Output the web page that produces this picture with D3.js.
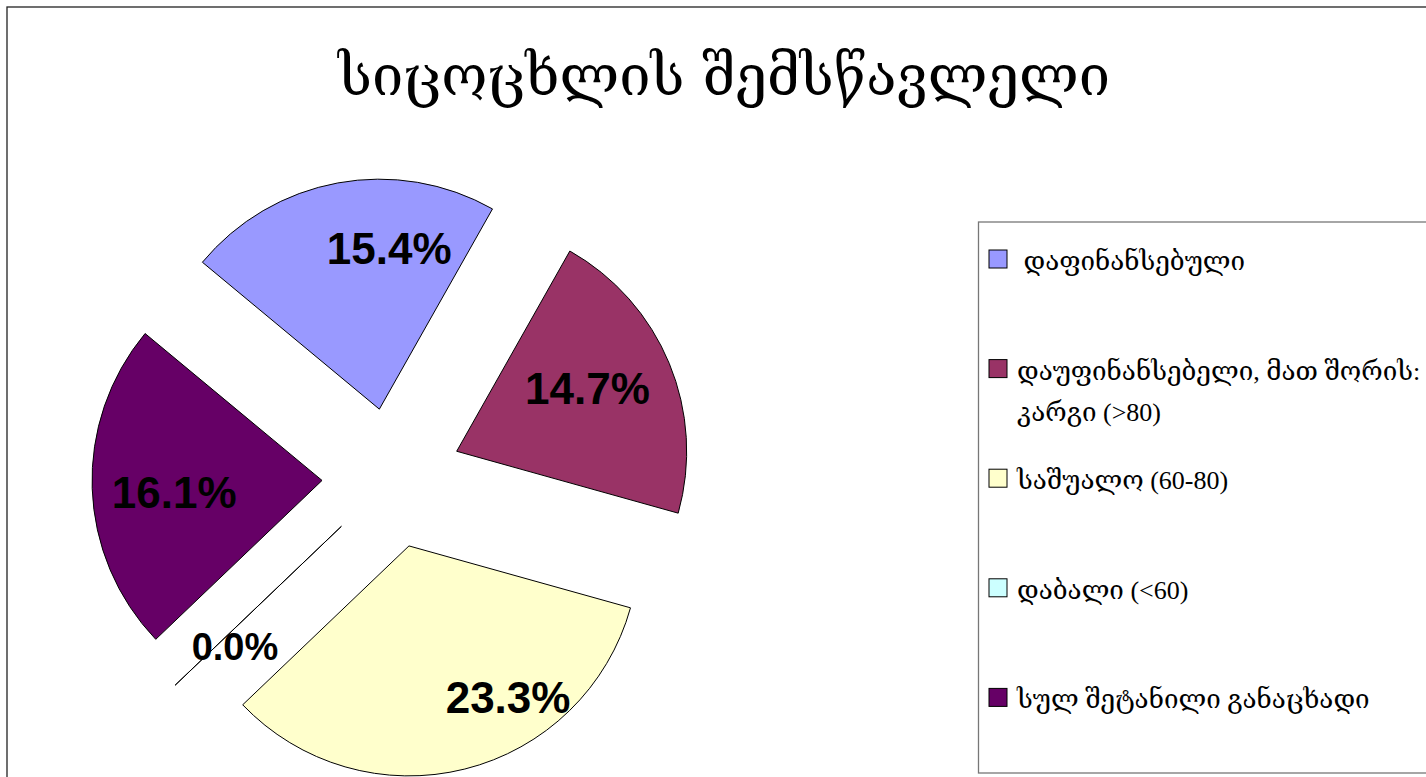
<!DOCTYPE html>
<html>
<head>
<meta charset="utf-8">
<script src="https://cdn.jsdelivr.net/npm/d3@7"></script>
<style>
  body { margin: 0; background: #fff; }
</style>
</head>
<body>
<div id="my_dataviz"></div>
<script>
// chart data
var categories = [" დაფინანსებული", "დაუფინანსებელი, მათ შორის: კარგი (>80)", "საშუალო (60-80)", "დაბალი (<60)", "სულ შეტანილი განაცხადი"];
var legendLines = [[" დაფინანსებული"], ["დაუფინანსებელი, მათ შორის:", "კარგი (>80)"], ["საშუალო (60-80)"], ["დაბალი (<60)"], ["სულ შეტანილი განაცხადი"]];
var values = [15.4, 14.7, 23.3, 0.0, 16.1];
var colors = ["#9999FF", "#993366", "#FFFFCC", "#CCFFFF", "#660066"];
var title = "სიცოცხლის შემსწავლელი";

// layout
var width = 1426, height = 777;
var cx = 392, cy = 478, radius = 230, explode = 70;
var startDeg = -50.3;
// small shifts of the value labels, like excel placed them
var labelShift = [[39, -3], [-18, -2], [60, -5], [10, 9], [13, 6]];

var svg = d3.select("#my_dataviz")
  .append("svg")
    .attr("width", width)
    .attr("height", height);

// outer frame of the chart area
svg.append("rect")
  .attr("x", 7).attr("y", 7)
  .attr("width", width + 20).attr("height", height + 20)
  .style("fill", "none")
  .style("stroke", "#222")
  .style("stroke-width", 1.3);

// title
svg.append("text")
  .attr("x", 724).attr("y", 95)
  .attr("text-anchor", "middle")
  .style("font-family", "'DejaVu Serif', 'DejaVu Sans', serif")
  .style("font-size", "56px")
  .text(title);

var pie = d3.pie()
  .sort(null)
  .value(function (d) { return d; })
  .startAngle(startDeg * Math.PI / 180)
  .endAngle(startDeg * Math.PI / 180 + 2 * Math.PI);

var arc = d3.arc()
  .innerRadius(0)
  .outerRadius(radius);

var arcs = pie(values);

function offset(d, dist) {
  var a = (d.startAngle + d.endAngle) / 2;
  return [Math.sin(a) * dist, -Math.cos(a) * dist];
}

var g = svg.append("g")
  .attr("transform", "translate(" + cx + "," + cy + ")");

// exploded slices
g.selectAll("path")
  .data(arcs)
  .enter()
  .append("path")
    .attr("d", arc)
    .attr("transform", function (d) {
      var o = offset(d, explode);
      return "translate(" + o[0] + "," + o[1] + ")";
    })
    .style("fill", function (d, i) { return colors[i]; })
    .style("stroke", "#000")
    .style("stroke-width", 1);

// value labels (the empty slice gets a smaller one)
g.selectAll("text.lbl")
  .data(arcs)
  .enter()
  .append("text")
    .attr("class", "lbl")
    .attr("x", function (d, i) { return offset(d, explode + radius * 0.7)[0] + labelShift[i][0]; })
    .attr("y", function (d, i) { return offset(d, explode + radius * 0.7)[1] + labelShift[i][1]; })
    .attr("dy", "0.36em")
    .attr("text-anchor", "middle")
    .style("font-family", "'Liberation Sans', Arial, sans-serif")
    .style("font-weight", "bold")
    .style("font-size", function (d) { return d.data === 0 ? "38px" : "44px"; })
    .text(function (d) { return d3.format(".1f")(d.data) + "%"; });

// legend box
var legend = svg.append("g");
legend.append("rect")
  .attr("x", 978.5).attr("y", 222)
  .attr("width", 500).attr("height", 551)
  .style("fill", "#fff")
  .style("stroke", "#777")
  .style("stroke-width", 1.3);

var item = legend.selectAll("g.item")
  .data(categories)
  .enter()
  .append("g")
    .attr("class", "item")
    .attr("transform", function (d, i) { return "translate(989," + (250 + i * 109.6) + ")"; });

item.append("rect")
  .attr("width", 18).attr("height", 18)
  .style("fill", function (d, i) { return colors[i]; })
  .style("stroke", "#000")
  .style("stroke-width", 1);

item.append("text")
  .attr("x", 28)
  .attr("y", 20)
  .style("font-family", "'Liberation Serif', 'DejaVu Serif', 'DejaVu Sans', serif")
  .style("font-size", "26px")
  .style("white-space", "pre")
  .selectAll("tspan")
  .data(function (d, i) { return legendLines[i]; })
  .enter()
  .append("tspan")
    .attr("x", 28)
    .attr("dy", function (d, j) { return j === 0 ? 0 : 41; })
    .text(function (d) { return d; });
</script>
</body>
</html>
